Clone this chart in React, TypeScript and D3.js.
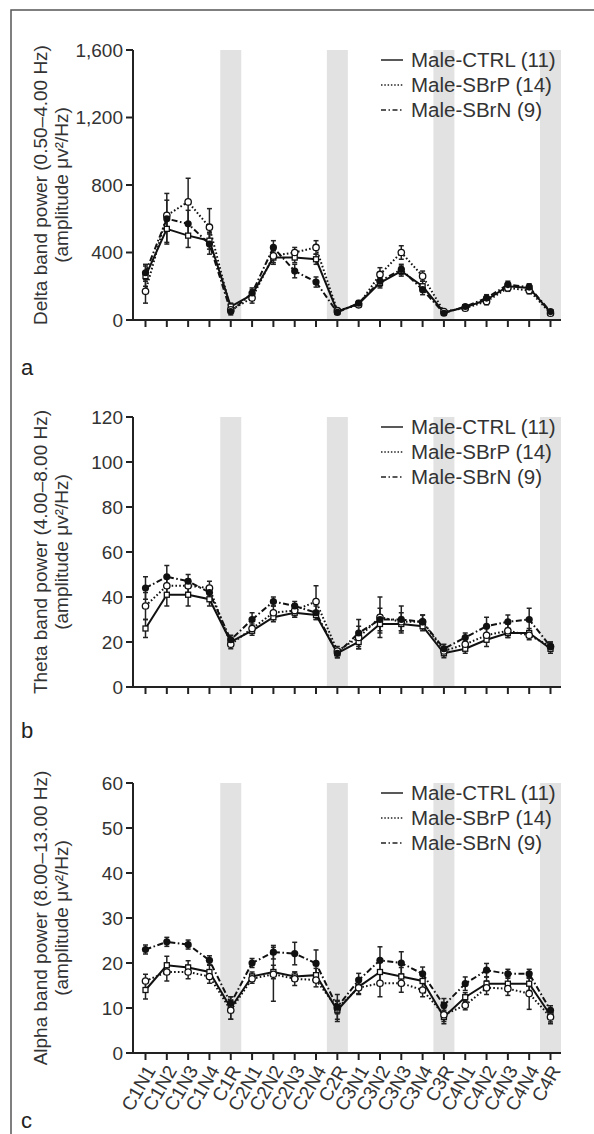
import React, { useEffect, useRef } from 'react'
import * as d3 from 'd3'

const categories = ['C1N1', 'C1N2', 'C1N3', 'C1N4', 'C1R', 'C2N1', 'C2N2', 'C2N3', 'C2N4', 'C2R',
  'C3N1', 'C3N2', 'C3N3', 'C3N4', 'C3R', 'C4N1', 'C4N2', 'C4N3', 'C4N4', 'C4R']
const restCats = ['C1R', 'C2R', 'C3R', 'C4R']
const groups = ['Male-CTRL (11)', 'Male-SBrP (14)', 'Male-SBrN (9)']

// delta band (0.50-4.00 Hz)
const deltaCtrl = [260, 540, 500, 470, 80, 150, 370, 370, 360, 50, 95, 220, 290, 200, 45, 75, 120, 200, 190, 45]
const deltaSbrp = [170, 620, 700, 550, 60, 130, 380, 400, 430, 55, 90, 270, 400, 260, 50, 70, 110, 190, 175, 40]
const deltaSbrn = [280, 600, 570, 450, 50, 160, 430, 290, 225, 45, 100, 230, 300, 180, 40, 80, 130, 210, 195, 50]
const deltaCtrlErr = [60, 80, 70, 50, 20, 30, 40, 30, 30, 10, 15, 30, 30, 30, 10, 10, 20, 20, 20, 10]
const deltaSbrpErr = [70, 90, 140, 110, 20, 30, 40, 30, 40, 10, 15, 40, 40, 30, 10, 10, 20, 20, 20, 10]
const deltaSbrnErr = [50, 150, 80, 60, 20, 30, 40, 40, 30, 10, 15, 30, 30, 30, 10, 10, 20, 20, 20, 10]

// theta band (4.00-8.00 Hz)
const thetaCtrl = [26, 41, 41, 39, 20, 25, 31, 33, 32, 15, 20, 28, 28, 27, 15, 17, 21, 24, 24, 17]
const thetaSbrp = [36, 45, 45, 44, 19, 26, 33, 34, 38, 16, 22, 31, 29, 29, 16, 19, 23, 25, 23, 18]
const thetaSbrn = [44, 49, 47, 42, 21, 30, 38, 36, 33, 15, 24, 30, 30, 29, 17, 22, 27, 29, 30, 18]
const thetaCtrlErr = [4, 5, 5, 3, 2, 2, 2, 2, 2, 2, 3, 4, 3, 2, 2, 2, 3, 2, 2, 2]
const thetaSbrpErr = [6, 4, 3, 3, 2, 2, 3, 3, 7, 2, 5, 9, 4, 3, 2, 2, 3, 3, 2, 2]
const thetaSbrnErr = [5, 5, 3, 3, 2, 3, 2, 2, 3, 2, 6, 5, 6, 3, 2, 2, 4, 3, 5, 2]

// alpha band (8.00-13.00 Hz)
const alphaCtrl = [14, 19.5, 19, 18, 10, 17, 18, 17, 17.3, 9.5, 14.7, 18, 17, 16, 8, 12.4, 15.4, 15.4, 15.4, 8.4]
const alphaSbrp = [16, 18, 18, 17, 9.5, 16.5, 17.5, 16.5, 16.2, 10, 14.5, 15.5, 15.5, 14, 8.5, 10.6, 14.5, 14.3, 13.2, 8]
const alphaSbrn = [23, 24.7, 24.1, 20.6, 11, 20, 22.4, 22.1, 19.9, 10.2, 16.2, 20.6, 20, 17.6, 10.6, 15.4, 18.4, 17.6, 17.6, 9.5]
const alphaCtrlErr = [2, 2, 1.5, 1.5, 2.5, 1, 1.5, 1, 1.5, 2, 1.5, 2.5, 2, 1.5, 1.5, 1, 1.5, 1.5, 1.5, 1.5]
const alphaSbrpErr = [1.5, 2, 1.5, 1.5, 2, 1, 6, 1.5, 1.5, 3, 1.5, 3, 2, 1.5, 1.5, 1, 1.5, 1.5, 3.5, 1.5]
const alphaSbrnErr = [1, 1, 1, 1, 1.5, 1, 1.5, 2.5, 3, 1.5, 1.5, 3, 2.5, 1.5, 1.5, 1.5, 1.5, 1, 1, 1]

const FONT = '"Liberation Sans", Arial, Helvetica, sans-serif'
const TXT = '#333'

const dashes = [null, '1.6,2.2', '6,2.5,1.6,2.5']

const panels = [
  { letter: 'a', top: 50, max: 1600, step: 400, title: 'Delta band power (0.50–4.00 Hz)',
    series: [deltaCtrl, deltaSbrp, deltaSbrn], errs: [deltaCtrlErr, deltaSbrpErr, deltaSbrnErr] },
  { letter: 'b', top: 417, max: 120, step: 20, title: 'Theta band power (4.00–8.00 Hz)',
    series: [thetaCtrl, thetaSbrp, thetaSbrn], errs: [thetaCtrlErr, thetaSbrpErr, thetaSbrnErr] },
  { letter: 'c', top: 783, max: 60, step: 10, title: 'Alpha band power (8.00–13.00 Hz)',
    series: [alphaCtrl, alphaSbrp, alphaSbrn], errs: [alphaCtrlErr, alphaSbrpErr, alphaSbrnErr] },
]

export default function App() {
  const ref = useRef<SVGSVGElement>(null)

  useEffect(() => {
    const svg = d3.select(ref.current)
    svg.selectAll('*').remove()

    // figure frame (left + top edges)
    svg.append('path').attr('d', 'M11,1134V10H594')
      .attr('fill', 'none').attr('stroke', '#555').attr('stroke-width', 1.5)

    const x = d3.scalePoint().domain(categories).range([145.5, 550.5])
    const bw = 21
    const axisX = 133
    const axisEnd = 561
    const h = 270

    panels.forEach((p, pi) => {
      const g = svg.append('g')
      const bottom = p.top + h
      const y = d3.scaleLinear().domain([0, p.max]).range([bottom, p.top])

      // grey bands for rest periods
      g.selectAll('rect.band').data(restCats).enter().append('rect')
        .attr('x', d => x(d)! - bw / 2).attr('width', bw)
        .attr('y', p.top).attr('height', h)
        .attr('fill', '#e2e2e2')

      // error bars
      p.series.forEach((vals, si) => {
        const errs = p.errs[si]
        const eg = g.append('g')
        vals.forEach((v, i) => {
          const cx = x(categories[i])!
          eg.append('line').attr('x1', cx).attr('x2', cx)
            .attr('y1', y(v - errs[i])).attr('y2', y(v + errs[i]))
            .attr('stroke', '#222').attr('stroke-width', 1.5)
          ;[v - errs[i], v + errs[i]].forEach(e => {
            eg.append('line').attr('x1', cx - 2.5).attr('x2', cx + 2.5)
              .attr('y1', y(e)).attr('y2', y(e))
              .attr('stroke', '#222').attr('stroke-width', 1.5)
          })
        })
      })

      // lines, one per group
      const line = d3.line<number>().x((d, i) => x(categories[i])!).y(d => y(d))
      p.series.forEach((vals, si) => {
        g.append('path').attr('d', line(vals))
          .attr('fill', 'none').attr('stroke', '#111').attr('stroke-width', 2)
          .attr('stroke-dasharray', dashes[si])
      })

      // markers
      p.series.forEach((vals, si) => {
        const mg = g.append('g')
        vals.forEach((v, i) => {
          const cx = x(categories[i])!
          if (si === 0) {
            mg.append('rect').attr('x', cx - 2.5).attr('y', y(v) - 2.5).attr('width', 5).attr('height', 5)
              .attr('fill', '#fff').attr('stroke', '#111').attr('stroke-width', 1.3)
          } else if (si === 1) {
            mg.append('circle').attr('cx', cx).attr('cy', y(v)).attr('r', 3.2)
              .attr('fill', '#fff').attr('stroke', '#111').attr('stroke-width', 1.3)
          } else {
            mg.append('circle').attr('cx', cx).attr('cy', y(v)).attr('r', 3.6)
              .attr('fill', '#111')
          }
        })
      })

      // axes
      g.append('line').attr('x1', axisX).attr('x2', axisX).attr('y1', p.top).attr('y2', bottom + 1)
        .attr('stroke', '#222').attr('stroke-width', 2)
      g.append('line').attr('x1', axisX - 1).attr('x2', axisEnd).attr('y1', bottom).attr('y2', bottom)
        .attr('stroke', '#222').attr('stroke-width', 2)

      const ticks = d3.range(0, p.max + p.step / 2, p.step)
      g.selectAll('line.yt').data(ticks).enter().append('line')
        .attr('x1', axisX - 7).attr('x2', axisX).attr('y1', d => y(d)).attr('y2', d => y(d))
        .attr('stroke', '#222').attr('stroke-width', 2)
      g.selectAll('text.yt').data(ticks).enter().append('text')
        .attr('x', axisX - 10).attr('y', d => y(d)).attr('dy', '0.36em')
        .attr('text-anchor', 'end').attr('font-family', FONT).attr('font-size', 19)
        .attr('fill', TXT).text(d => d3.format(',')(d))

      g.selectAll('line.xt').data(categories).enter().append('line')
        .attr('x1', d => x(d)!).attr('x2', d => x(d)!).attr('y1', bottom).attr('y2', bottom + 7)
        .attr('stroke', '#222').attr('stroke-width', 2)

      if (pi === 2) {
        g.selectAll('text.xl').data(categories).enter().append('text')
          .attr('transform', d => `translate(${x(d)! + 5},${bottom + 14}) rotate(-60)`)
          .attr('text-anchor', 'end').attr('dy', '0.35em')
          .attr('font-family', FONT).attr('font-size', 19).attr('fill', TXT)
          .text(d => d)
      }

      // y title
      const cy = (p.top + bottom) / 2
      const tg = g.append('text').attr('transform', `translate(47,${cy}) rotate(-90)`)
        .attr('text-anchor', 'middle').attr('font-family', FONT).attr('font-size', 19).attr('fill', TXT)
      tg.append('tspan').attr('x', 0).attr('y', 0).text(p.title)
      tg.append('tspan').attr('x', 0).attr('y', 21).text('(amplitude μv²/Hz)')

      // legend
      groups.forEach((name, si) => {
        const ly = p.top + 17 + si * 25
        g.append('line').attr('x1', 381).attr('x2', 403).attr('y1', ly - 7).attr('y2', ly - 7)
          .attr('stroke', '#222').attr('stroke-width', 1.5)
          .attr('stroke-dasharray', si === 0 ? null : si === 1 ? '1.5,1.8' : '5,2.5,1.5,2.5')
        g.append('text').attr('x', 411).attr('y', ly)
          .attr('font-family', FONT).attr('font-size', 20.5).attr('fill', TXT).text(name)
      })

      // panel letter
      g.append('text').attr('x', 21).attr('y', pi === 0 ? 375 : pi === 1 ? 738 : 1128)
        .attr('font-family', FONT).attr('font-size', 22).attr('fill', '#222').text(p.letter)
    })
  }, [])

  return (
    <svg ref={ref} width={594} height={1134}
      style={{ position: 'absolute', left: 0, top: 0, background: '#fff' }} />
  )
}
